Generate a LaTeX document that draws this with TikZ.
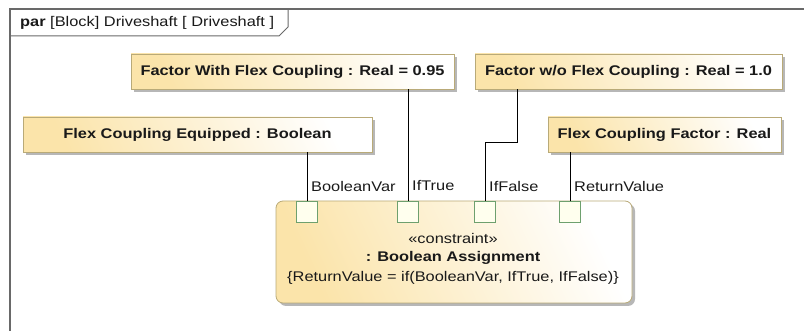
\documentclass[tikz,border=0pt]{standalone}
\usepackage{fontspec}
\setmainfont{Liberation Sans}[FakeStretch=1.17]
\usetikzlibrary{shadows}
\definecolor{boxfill}{RGB}{251,228,170}
\definecolor{boxedge}{RGB}{185,170,120}
\definecolor{portedge}{RGB}{110,160,110}
\definecolor{portfill}{RGB}{255,255,238}
\definecolor{framec}{RGB}{105,105,105}
\definecolor{txt}{RGB}{25,25,25}
\begin{document}
\begin{tikzpicture}[x=1pt,y=-1pt,
  every node/.style={font=\fontsize{14}{16}\selectfont, inner sep=0pt, text=txt},
  partbox/.style={draw=boxedge, line width=0.8pt, left color=boxfill, right color=white,
    shading angle=115,
    minimum height=35pt, font=\fontsize{14}{16}\selectfont\bfseries,
    drop shadow={shadow xshift=3pt, shadow yshift=-3pt, fill=black!40, opacity=0.7}},
  blockbox/.style={draw=boxedge, line width=0.8pt, left color=boxfill, right color=white,
    shading angle=115, rounded corners=7pt,
    drop shadow={shadow xshift=3pt, shadow yshift=-3pt, fill=black!40, opacity=0.7}},
  port/.style={draw=portedge, fill=portfill, line width=0.9pt, minimum size=21pt},
  wire/.style={draw=black, line width=1pt},
  plabel/.style={anchor=west},
  frameline/.style={draw=framec, line width=1.4pt}
]
\useasboundingbox (0,0) rectangle (804,331);
% frame
\draw[frameline] (10,331) -- (10,9) -- (804,9);
\draw[frameline, line width=1pt] (10,36) -- (279,36) -- (288,27) -- (288,9);
\node[anchor=west] (title) at (20,22.5) {\textbf{par} [Block] Driveshaft [ Driveshaft ]};
% part boxes
\node[partbox, minimum width=323pt] (fwf) at (292.5,71.5) {Factor With Flex Coupling : Real = 0.95};
\node[partbox, minimum width=307pt] (fwo) at (628.5,71.5) {Factor w/o Flex Coupling : Real = 1.0};
\node[partbox, minimum width=349pt] (fce) at (197.5,134.5) {Flex Coupling Equipped : Boolean};
\node[partbox, minimum width=233pt] (fcf) at (664.5,134.5) {Flex Coupling Factor : Real};
% constraint block
\node[blockbox, minimum width=356pt, minimum height=102pt] (blk) at (454,252) {};
\node[port] (p1) at (307,211.5) {};
\node[port] (p2) at (408,211.5) {};
\node[port] (p3) at (485,211.5) {};
\node[port] (p4) at (570,211.5) {};
\node (st) at (453,238) {«constraint»};
\node[font=\fontsize{14}{16}\selectfont\bfseries] (bn) at (453,258) {: Boolean Assignment};
\node (expr) at (453,278) {\{ReturnValue = if(BooleanVar, IfTrue, IfFalse)\}};
% connectors
\draw[wire] (p1.north |- fce.south) -- (p1.north);
\draw[wire] (p2.north |- fwf.south) -- (p2.north);
\coordinate (bend) at (517,143);
\draw[wire] (bend |- fwo.south) -- (bend) -- (bend -| p3.north) -- (p3.north);
\draw[wire] (p4.north |- fcf.south) -- (p4.north);
% port labels
\node[plabel] (l1) at (311,186) {BooleanVar};
\node[plabel] (l2) at (412,186) {IfTrue};
\node[plabel] (l3) at (489,186) {IfFalse};
\node[plabel] (l4) at (574,186) {ReturnValue};
\end{tikzpicture}
\end{document}
